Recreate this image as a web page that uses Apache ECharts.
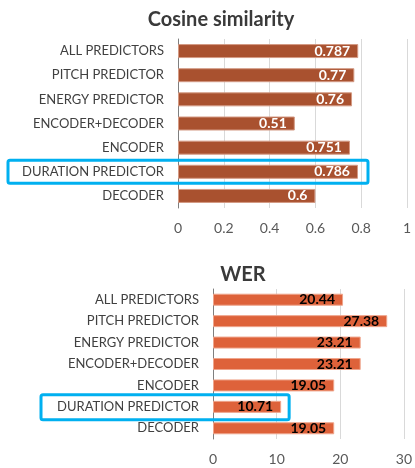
<!DOCTYPE html>
<html lang="en">
<head>
  <meta charset="UTF-8">
  <title>Cosine similarity and WER</title>
  <style>
    html, body { margin: 0; padding: 0; background: #fff; }
  </style>
</head>
<body>
  <div id="chart" style="width: 415px; height: 468px;"></div>
  <script src="https://cdn.jsdelivr.net/npm/echarts@6/dist/echarts.min.js"></script>
  <script>
    const categories = ["ALL PREDICTORS", "PITCH PREDICTOR", "ENERGY PREDICTOR", "ENCODER+DECODER", "ENCODER", "DURATION PREDICTOR", "DECODER"];
    const cosineValues = [0.787, 0.77, 0.76, 0.51, 0.751, 0.786, 0.6];
    const werValues = [20.44, 27.38, 23.21, 23.21, 19.05, 10.71, 19.05];
    const highlighted = "DURATION PREDICTOR";

    const font = "Lato, 'Open Sans', sans-serif";

    const chart = echarts.init(document.getElementById("chart"), null, { renderer: 'canvas' });

    const valueAxis = (gridIndex, max, interval) => ({
      type: "value",
      gridIndex: gridIndex,
      min: 0,
      max: max,
      interval: interval,
      axisLine: { show: false },
      axisTick: { show: false },
      splitLine: { show: true, lineStyle: { color: "#d9d9d9", width: 1 } },
      axisLabel: { color: "#595959", fontSize: 14, fontFamily: font, margin: 13 }
    });

    const categoryAxis = (gridIndex) => ({
      type: "category",
      gridIndex: gridIndex,
      inverse: true,
      data: categories,
      axisLine: { show: true, lineStyle: { color: "#7f7f7f", width: 1 } },
      axisTick: { show: false },
      axisLabel: { color: "#404040", fontSize: 13, fontFamily: font, margin: 14, interval: 0 }
    });

    chart.setOption({
      animation: false,
      title: [
        {
          text: "Cosine similarity",
          left: 216, top: 5, textAlign: "center",
          textStyle: { fontSize: 20, fontWeight: "bold", color: "#3a3a3a", fontFamily: font }
        },
        {
          text: "WER",
          left: 238, top: 260, textAlign: "center",
          textStyle: { fontSize: 20, fontWeight: "bold", color: "#3a3a3a", fontFamily: font }
        }
      ],
      grid: [
        { left: 178, right: 8, top: 39, height: 169 },
        { left: 213, right: 8, top: 289, height: 150 }
      ],
      xAxis: [valueAxis(0, 1, 0.2), valueAxis(1, 30, 10)],
      yAxis: [categoryAxis(0), categoryAxis(1)],
      series: [
        {
          type: "bar",
          xAxisIndex: 0, yAxisIndex: 0,
          data: cosineValues,
          barWidth: 14,
          itemStyle: { color: "#a9512f", borderColor: "#d49a84", borderWidth: 1 },
          label: {
            show: true, position: "insideRight", distance: 8,
            color: "#fff", fontWeight: "bold", fontSize: 14, fontFamily: font
          }
        },
        {
          type: "bar",
          xAxisIndex: 1, yAxisIndex: 1,
          data: werValues,
          barWidth: 12,
          itemStyle: { color: "#de623a", borderColor: "#efa58c", borderWidth: 1 },
          label: {
            show: true, position: "insideRight", distance: 8,
            color: "#000", fontWeight: "bold", fontSize: 14, fontFamily: font
          }
        }
      ]
    });

    // Blue highlight boxes around the duration predictor rows
    const idx = categories.indexOf(highlighted);
    const topRow = chart.convertToPixel({ gridIndex: 0 }, [0, idx]);
    const botRow = chart.convertToPixel({ gridIndex: 1 }, [0, idx]);
    const topEnd = chart.convertToPixel({ gridIndex: 0 }, [cosineValues[idx], idx]);
    const botEnd = chart.convertToPixel({ gridIndex: 1 }, [werValues[idx], idx]);

    chart.setOption({
      graphic: [
        {
          type: "rect",
          shape: { x: 8, y: topRow[1] - 11.5, width: topEnd[0] + 10 - 8, height: 23, r: 2 },
          style: { fill: "none", stroke: "#00b0f0", lineWidth: 3 },
          z: 100
        },
        {
          type: "rect",
          shape: { x: 41, y: botRow[1] - 12, width: botEnd[0] + 8 - 41, height: 25, r: 2 },
          style: { fill: "none", stroke: "#00b0f0", lineWidth: 3 },
          z: 100
        }
      ]
    });
  </script>
</body>
</html>
